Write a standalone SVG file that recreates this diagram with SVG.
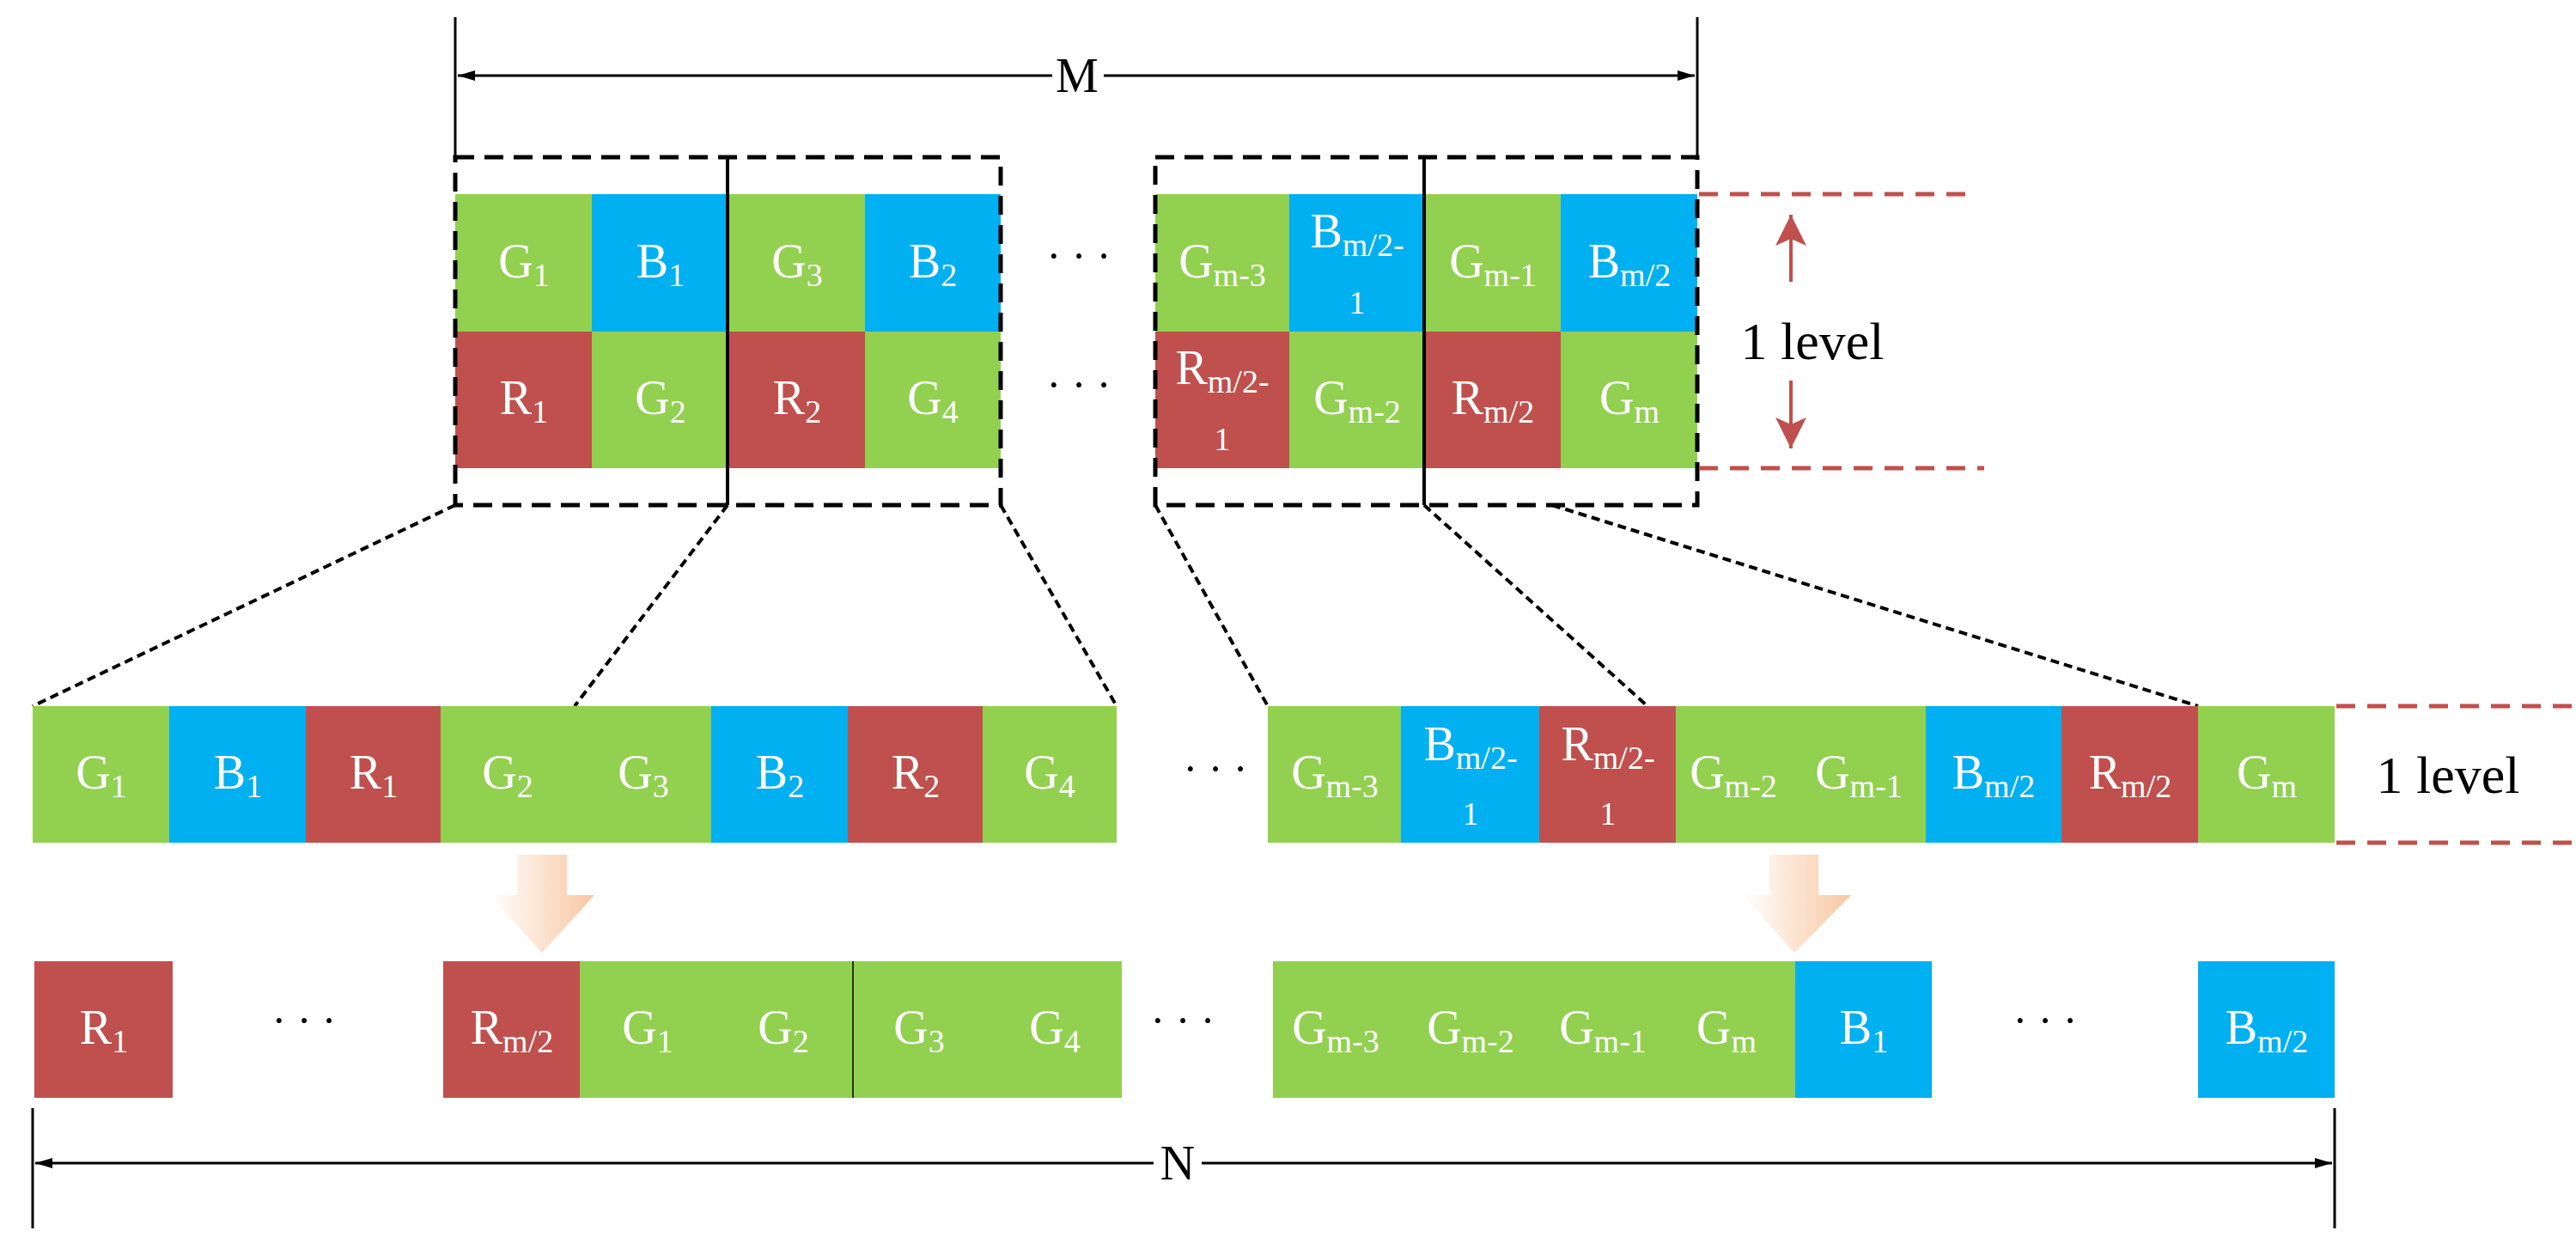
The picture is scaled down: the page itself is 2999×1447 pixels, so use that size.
<svg xmlns="http://www.w3.org/2000/svg" width="2999" height="1447" viewBox="0 0 2999 1447">
<style>
.g{fill:#92d050}.b{fill:#00b0f0}.r{fill:#c0504d}
.t{font-family:"Liberation Serif",serif;font-size:56px;fill:#fff;text-anchor:middle}
.s{font-size:38px}
.k{font-family:"Liberation Serif",serif;fill:#000;text-anchor:middle}
.box{fill:none;stroke:#000;stroke-width:5;stroke-dasharray:22 12}
.con{fill:none;stroke:#000;stroke-width:4;stroke-dasharray:10 6}
.rd{fill:none;stroke:#c0504d;stroke-width:5;stroke-dasharray:22 14}
.dim{stroke:#000;stroke-width:3;fill:none}
</style>
<defs>
<marker id="ah" viewBox="0 0 20 12" refX="20" refY="6" markerWidth="20" markerHeight="12" markerUnits="userSpaceOnUse" orient="auto-start-reverse"><path d="M0,0 L20,6 L0,12 Z" fill="#000"/></marker>
<marker id="rh" viewBox="0 0 36 40" refX="36" refY="20" markerWidth="36" markerHeight="40" markerUnits="userSpaceOnUse" orient="auto"><path d="M0,2 L36,20 L0,38 L8,20 Z" fill="#c0504d"/></marker>
<linearGradient id="og" x1="0" x2="1" y1="0" y2="0"><stop offset="0" stop-color="#fff"/><stop offset="1" stop-color="#f8c7a2"/></linearGradient>
</defs>

<g id="dimM">
<line class="dim" x1="530" y1="20" x2="530" y2="183"/>
<line class="dim" x1="1976" y1="20" x2="1976" y2="183"/>
<line class="dim" x1="533" y1="88" x2="1973" y2="88" marker-start="url(#ah)" marker-end="url(#ah)"/>
<rect x="1225" y="60" width="60" height="56" fill="#fff"/>
<text class="k" x="1254" y="107" font-size="56">M</text>
</g>

<g id="topLeft">
<rect class="g" x="530" y="226" width="159" height="160"/><text class="t" x="610" y="323">G<tspan class="s" dy="10">1</tspan></text>
<rect class="b" x="689" y="226" width="159" height="160"/><text class="t" x="769" y="323">B<tspan class="s" dy="10">1</tspan></text>
<rect class="g" x="848" y="226" width="159" height="160"/><text class="t" x="928" y="323">G<tspan class="s" dy="10">3</tspan></text>
<rect class="b" x="1007" y="226" width="158" height="160"/><text class="t" x="1086" y="323">B<tspan class="s" dy="10">2</tspan></text>
<rect class="r" x="530" y="386" width="159" height="159"/><text class="t" x="610" y="482">R<tspan class="s" dy="10">1</tspan></text>
<rect class="g" x="689" y="386" width="159" height="159"/><text class="t" x="769" y="482">G<tspan class="s" dy="10">2</tspan></text>
<rect class="r" x="848" y="386" width="159" height="159"/><text class="t" x="928" y="482">R<tspan class="s" dy="10">2</tspan></text>
<rect class="g" x="1007" y="386" width="158" height="159"/><text class="t" x="1086" y="482">G<tspan class="s" dy="10">4</tspan></text>
<rect class="box" x="530" y="183" width="635" height="405"/>
<line x1="847" y1="183" x2="847" y2="588" stroke="#000" stroke-width="4"/>
</g>

<g id="topDots">
<text class="k" x="1256" y="315" font-size="50">· · ·</text>
<text class="k" x="1256" y="465" font-size="50">· · ·</text>
</g>

<g id="topRight">
<rect class="g" x="1345" y="226" width="156" height="160"/><text class="t" x="1423" y="323">G<tspan class="s" dy="10">m-3</tspan></text>
<rect class="b" x="1501" y="226" width="157" height="160"/><text class="t" x="1580" y="288">B<tspan class="s" dy="10">m/2-</tspan></text><text class="t s" x="1580" y="365">1</text>
<rect class="g" x="1658" y="226" width="159" height="160"/><text class="t" x="1738" y="323">G<tspan class="s" dy="10">m-1</tspan></text>
<rect class="b" x="1817" y="226" width="159" height="160"/><text class="t" x="1897" y="323">B<tspan class="s" dy="10">m/2</tspan></text>
<rect class="r" x="1345" y="386" width="156" height="159"/><text class="t" x="1423" y="447">R<tspan class="s" dy="10">m/2-</tspan></text><text class="t s" x="1423" y="524">1</text>
<rect class="g" x="1501" y="386" width="157" height="159"/><text class="t" x="1580" y="482">G<tspan class="s" dy="10">m-2</tspan></text>
<rect class="r" x="1658" y="386" width="159" height="159"/><text class="t" x="1738" y="482">R<tspan class="s" dy="10">m/2</tspan></text>
<rect class="g" x="1817" y="386" width="159" height="159"/><text class="t" x="1897" y="482">G<tspan class="s" dy="10">m</tspan></text>
<rect class="box" x="1345" y="183" width="631" height="405"/>
<line x1="1658" y1="183" x2="1658" y2="588" stroke="#000" stroke-width="4"/>
</g>

<g id="level1">
<line class="rd" x1="1978" y1="226" x2="2291" y2="226"/>
<line class="rd" x1="1978" y1="545" x2="2310" y2="545"/>
<line x1="2085" y1="328" x2="2085" y2="250" stroke="#c0504d" stroke-width="4" marker-end="url(#rh)"/>
<line x1="2085" y1="443" x2="2085" y2="522" stroke="#c0504d" stroke-width="4" marker-end="url(#rh)"/>
<text class="k" x="2110" y="418" font-size="62">1 level</text>
</g>

<g id="connectors">
<line class="con" x1="530" y1="588" x2="38" y2="822"/>
<line class="con" x1="847" y1="588" x2="669" y2="822"/>
<line class="con" x1="1165" y1="588" x2="1300" y2="822"/>
<line class="con" x1="1345" y1="588" x2="1476" y2="822"/>
<line class="con" x1="1658" y1="588" x2="1918" y2="822"/>
<line class="con" x1="1807" y1="588" x2="2559" y2="822"/>
</g>

<g id="midLeft">
<rect class="g" x="38" y="822" width="159" height="159"/><text class="t" x="118" y="918">G<tspan class="s" dy="10">1</tspan></text>
<rect class="b" x="197" y="822" width="159" height="159"/><text class="t" x="277" y="918">B<tspan class="s" dy="10">1</tspan></text>
<rect class="r" x="356" y="822" width="157" height="159"/><text class="t" x="435" y="918">R<tspan class="s" dy="10">1</tspan></text>
<rect class="g" x="513" y="822" width="156" height="159"/><text class="t" x="591" y="918">G<tspan class="s" dy="10">2</tspan></text>
<rect class="g" x="669" y="822" width="159" height="159"/><text class="t" x="749" y="918">G<tspan class="s" dy="10">3</tspan></text>
<rect class="b" x="828" y="822" width="159" height="159"/><text class="t" x="908" y="918">B<tspan class="s" dy="10">2</tspan></text>
<rect class="r" x="987" y="822" width="157" height="159"/><text class="t" x="1066" y="918">R<tspan class="s" dy="10">2</tspan></text>
<rect class="g" x="1144" y="822" width="156" height="159"/><text class="t" x="1222" y="918">G<tspan class="s" dy="10">4</tspan></text>
<text class="k" x="1415" y="912" font-size="50">· · ·</text>
</g>

<g id="midRight">
<rect class="g" x="1476" y="822" width="155" height="159"/><text class="t" x="1554" y="918">G<tspan class="s" dy="10">m-3</tspan></text>
<rect class="b" x="1631" y="822" width="161" height="159"/><text class="t" x="1712" y="885">B<tspan class="s" dy="10">m/2-</tspan></text><text class="t s" x="1712" y="960">1</text>
<rect class="r" x="1792" y="822" width="159" height="159"/><text class="t" x="1872" y="885">R<tspan class="s" dy="10">m/2-</tspan></text><text class="t s" x="1872" y="960">1</text>
<rect class="g" x="1951" y="822" width="134" height="159"/><text class="t" x="2018" y="918">G<tspan class="s" dy="10">m-2</tspan></text>
<rect class="g" x="2085" y="822" width="157" height="159"/><text class="t" x="2164" y="918">G<tspan class="s" dy="10">m-1</tspan></text>
<rect class="b" x="2242" y="822" width="158" height="159"/><text class="t" x="2321" y="918">B<tspan class="s" dy="10">m/2</tspan></text>
<rect class="r" x="2400" y="822" width="159" height="159"/><text class="t" x="2480" y="918">R<tspan class="s" dy="10">m/2</tspan></text>
<rect class="g" x="2559" y="822" width="159" height="159"/><text class="t" x="2639" y="918">G<tspan class="s" dy="10">m</tspan></text>
<line class="rd" x1="2720" y1="822" x2="2999" y2="822"/>
<line class="rd" x1="2720" y1="981" x2="2999" y2="981"/>
<text class="k" x="2850" y="923" font-size="62">1 level</text>
</g>

<g id="arrow1"><path d="M602,995 H660 V1042 H692 L631,1109 L570,1042 H602 Z" fill="url(#og)"/></g>
<g id="arrow2"><path d="M2060,995 H2117 V1042 H2155 L2089,1109 L2029,1042 H2060 Z" fill="url(#og)"/></g>

<g id="botLeft">
<rect class="r" x="40" y="1119" width="161" height="159"/><text class="t" x="121" y="1215">R<tspan class="s" dy="10">1</tspan></text>
<text class="k" x="354" y="1205" font-size="50">· · ·</text>
<rect class="r" x="516" y="1119" width="159" height="159"/><text class="t" x="596" y="1215">R<tspan class="s" dy="10">m/2</tspan></text>
<rect class="g" x="675" y="1119" width="631" height="159"/>
<line x1="993" y1="1119" x2="993" y2="1278" stroke="#000" stroke-width="1.5"/>
<text class="t" x="754" y="1215">G<tspan class="s" dy="10">1</tspan></text>
<text class="t" x="912" y="1215">G<tspan class="s" dy="10">2</tspan></text>
<text class="t" x="1070" y="1215">G<tspan class="s" dy="10">3</tspan></text>
<text class="t" x="1228" y="1215">G<tspan class="s" dy="10">4</tspan></text>
<text class="k" x="1377" y="1205" font-size="50">· · ·</text>
</g>

<g id="botRight">
<rect class="g" x="1482" y="1119" width="608" height="159"/>
<text class="t" x="1555" y="1215">G<tspan class="s" dy="10">m-3</tspan></text>
<text class="t" x="1712" y="1215">G<tspan class="s" dy="10">m-2</tspan></text>
<text class="t" x="1866" y="1215">G<tspan class="s" dy="10">m-1</tspan></text>
<text class="t" x="2010" y="1215">G<tspan class="s" dy="10">m</tspan></text>
<rect class="b" x="2090" y="1119" width="159" height="159"/><text class="t" x="2170" y="1215">B<tspan class="s" dy="10">1</tspan></text>
<text class="k" x="2381" y="1205" font-size="50">· · ·</text>
<rect class="b" x="2559" y="1119" width="159" height="159"/><text class="t" x="2639" y="1215">B<tspan class="s" dy="10">m/2</tspan></text>
</g>

<g id="dimN">
<line class="dim" x1="38" y1="1290" x2="38" y2="1430"/>
<line class="dim" x1="2718" y1="1290" x2="2718" y2="1430"/>
<line class="dim" x1="41" y1="1354" x2="2715" y2="1354" marker-start="url(#ah)" marker-end="url(#ah)"/>
<rect x="1343" y="1326" width="56" height="56" fill="#fff"/>
<text class="k" x="1371" y="1373" font-size="56">N</text>
</g>
</svg>
